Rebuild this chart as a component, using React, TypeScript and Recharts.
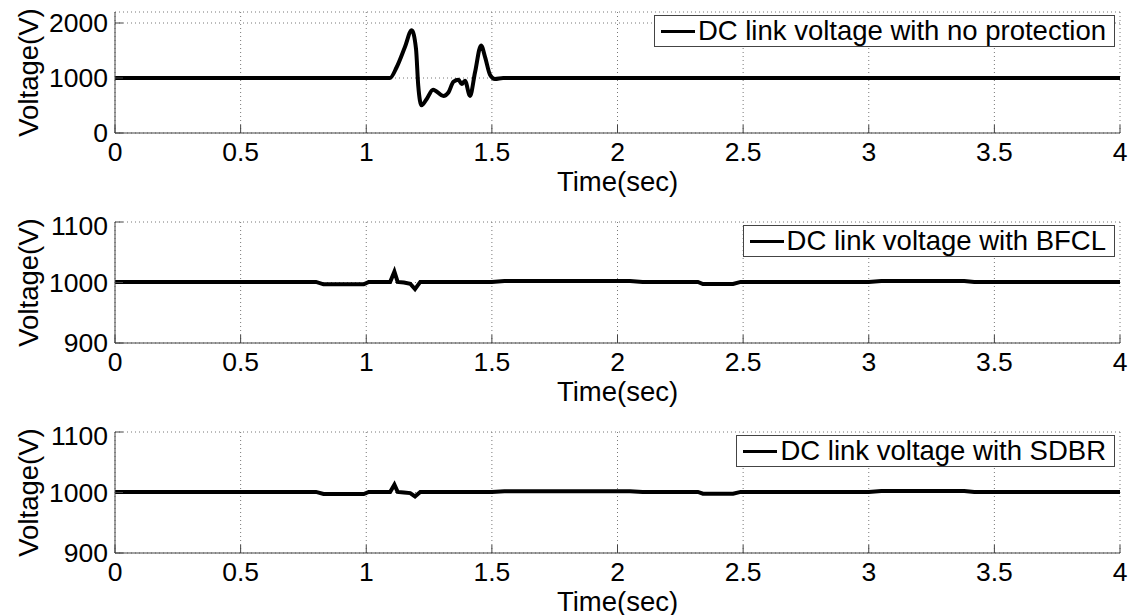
import {
  LineChart,
  Line,
  XAxis,
  YAxis,
  CartesianGrid,
  Legend,
} from "recharts";

// time axis ticks (sec)
const timeTicks = [0, 0.5, 1, 1.5, 2, 2.5, 3, 3.5, 4];

// panel 1: no protection
const noProtTime = [
  0, 1.094, 1.121, 1.154, 1.181, 1.198, 1.207, 1.22, 1.24, 1.266, 1.307, 1.327,
  1.347, 1.367, 1.38, 1.393, 1.413, 1.433, 1.457, 1.473, 1.493, 1.512, 1.545, 4,
];
const noProtVolt = [
  1000, 1000, 1196, 1563, 1868, 1532, 859, 505, 615, 786, 675, 737, 932, 969,
  890, 950, 675, 1104, 1593, 1380, 1055, 982, 1000, 1000,
];
const noProtTicks = [0, 1000, 2000];

// panel 2: BFCL
const bfclTime = [
  0, 0.8, 0.83, 0.99, 1.01, 1.095, 1.112, 1.125, 1.15, 1.175, 1.194, 1.215,
  1.5, 1.55, 2.05, 2.1, 2.32, 2.34, 2.46, 2.49, 3.0, 3.05, 3.38, 3.42, 4,
];
const bfclVolt = [
  1001, 1001, 997, 997, 1001, 1001, 1018, 1001, 1000, 998, 989, 1001, 1001,
  1002.5, 1002.5, 1001, 1001, 997.5, 997.5, 1001, 1001, 1002.5, 1002.5, 1001,
  1001,
];

// panel 3: SDBR
const sdbrTime = [
  0, 0.8, 0.83, 0.99, 1.01, 1.095, 1.112, 1.125, 1.15, 1.175, 1.194, 1.215,
  1.5, 1.55, 2.05, 2.1, 2.32, 2.34, 2.46, 2.49, 3.0, 3.05, 3.38, 3.42, 4,
];
const sdbrVolt = [
  1001, 1001, 997.5, 997.5, 1001, 1001, 1013, 1001, 1000, 999, 993.5, 1001,
  1001, 1002, 1002, 1001, 1001, 998, 998, 1001, 1001, 1002.5, 1002.5, 1001,
  1001,
];
const smallTicks = [900, 1000, 1100];

const FONT = "'Liberation Sans', Arial, sans-serif";
const FRAME = "#444";
const FS = 27.5;
const TICK_FS = 26.5;

const toRows = (t: number[], v: number[]) =>
  t.map((time, i) => ({ time, volt: v[i] }));

const YLabel = ({ viewBox }: any) => {
  const cx = 28;
  const cy = viewBox.y + viewBox.height / 2;
  return (
    <text
      x={cx}
      y={cy}
      transform={`rotate(-90 ${cx} ${cy})`}
      textAnchor="middle"
      dominantBaseline="central"
      fontFamily={FONT}
      fontSize={FS}
      fill="#000"
    >
      Voltage(V)
    </text>
  );
};

const XLabel = ({ viewBox }: any) => (
  <text
    x={viewBox.x + viewBox.width / 2}
    y={191}
    textAnchor="middle"
    fontFamily={FONT}
    fontSize={FS}
    fill="#000"
  >
    Time(sec)
  </text>
);

function LegendBox({ label }: { label: string }) {
  return (
    <div
      style={{
        display: "flex",
        alignItems: "center",
        background: "#fff",
        border: `1px solid ${FRAME}`,
        padding: "0 8px 0 6px",
        height: 30,
        fontFamily: FONT,
        fontSize: FS,
        whiteSpace: "nowrap",
      }}
    >
      <div
        style={{ width: 34, height: 3, background: "#000", marginRight: 3 }}
      />
      <span>{label}</span>
    </div>
  );
}

function Panel({
  data,
  domain,
  ticks,
  label,
  top,
  curve,
}: {
  data: { time: number; volt: number }[];
  domain: [number, number];
  ticks: number[];
  label: string;
  top: number;
  curve: "linear" | "monotone";
}) {
  const tickStyle = { fill: "#000", fontSize: TICK_FS, fontFamily: FONT };
  return (
    <div style={{ position: "absolute", left: 0, top }}>
      <LineChart
        width={1139}
        height={210}
        data={data}
        margin={{ top: 12, right: 19, left: 0, bottom: 17 }}
      >
        <CartesianGrid stroke="#777" strokeDasharray="1 3" />
        <XAxis
          dataKey="time"
          type="number"
          domain={[0, 4]}
          ticks={timeTicks}
          height={60}
          stroke={FRAME}
          tickSize={-8}
          tickMargin={17}
          fontSize={TICK_FS}
          tick={tickStyle}
          label={<XLabel />}
        />
        <XAxis
          xAxisId="top"
          orientation="top"
          type="number"
          domain={[0, 4]}
          ticks={timeTicks}
          height={0}
          stroke={FRAME}
          tickSize={-8}
          tick={false}
          allowDataOverflow
        />
        <YAxis
          type="number"
          domain={domain}
          ticks={ticks}
          width={115}
          stroke={FRAME}
          tickSize={-8}
          tickMargin={15}
          allowDataOverflow
          fontSize={TICK_FS}
          tick={tickStyle}
          label={<YLabel />}
        />
        <YAxis
          yAxisId="right"
          orientation="right"
          type="number"
          domain={domain}
          ticks={ticks}
          width={0}
          stroke={FRAME}
          tickSize={-8}
          tick={false}
          allowDataOverflow
        />
        <Legend
          layout="vertical"
          align="center"
          verticalAlign="middle"
          wrapperStyle={{ top: 15, right: 24, left: "auto", width: "auto" }}
          content={() => <LegendBox label={label} />}
        />
        <Line
          dataKey="volt"
          stroke="#000"
          strokeWidth={4}
          dot={false}
          type={curve}
          isAnimationActive={false}
        />
      </LineChart>
    </div>
  );
}

export default function App() {
  return (
    <div style={{ position: "relative", width: 1139, height: 615, background: "#fff" }}>
      <style>{`body{margin:0;background:#fff}`}</style>
      <Panel
        data={toRows(noProtTime, noProtVolt)}
        domain={[0, 2200]}
        ticks={noProtTicks}
        label="DC link voltage with no protection"
        top={0}
        curve="monotone"
      />
      <Panel
        data={toRows(bfclTime, bfclVolt)}
        domain={[900, 1100]}
        ticks={smallTicks}
        label="DC link voltage with BFCL"
        top={210}
        curve="linear"
      />
      <Panel
        data={toRows(sdbrTime, sdbrVolt)}
        domain={[900, 1100]}
        ticks={smallTicks}
        label="DC link voltage with SDBR"
        top={420}
        curve="linear"
      />
    </div>
  );
}
